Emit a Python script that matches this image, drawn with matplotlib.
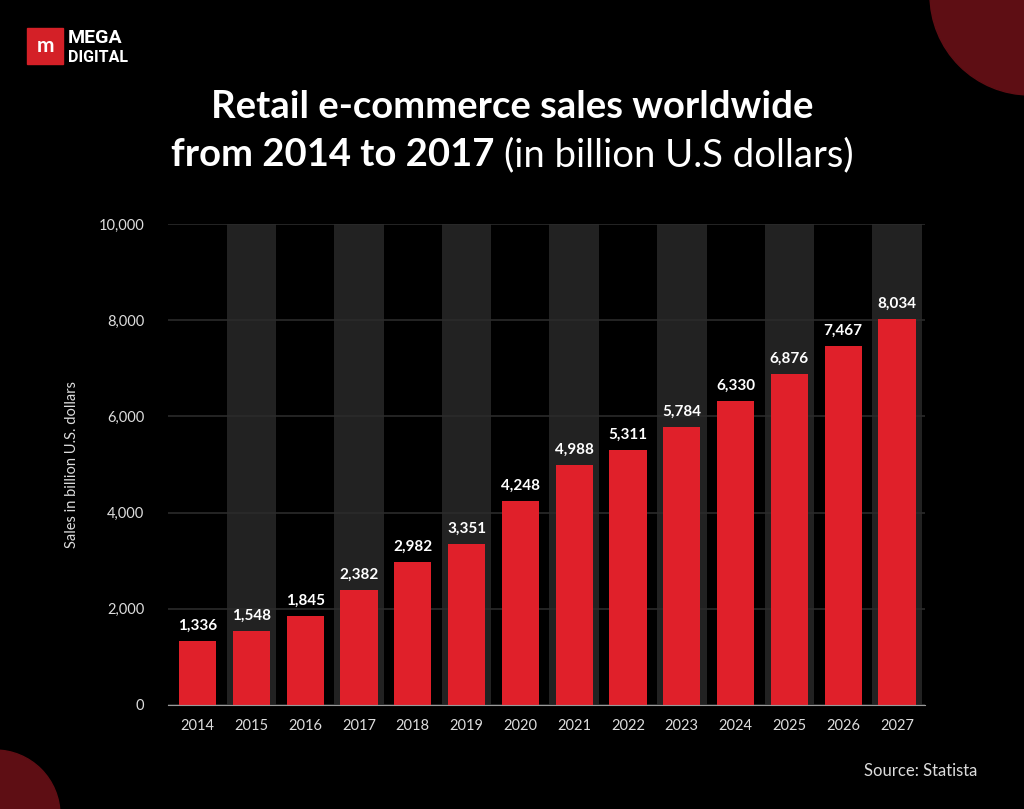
import matplotlib.pyplot as plt
from matplotlib.patches import Circle, Rectangle
import numpy as np

years = ['2014', '2015', '2016', '2017', '2018', '2019', '2020',
         '2021', '2022', '2023', '2024', '2025', '2026', '2027']
sales = [1336, 1548, 1845, 2382, 2982, 3351, 4248,
         4988, 5311, 5784, 6330, 6876, 7467, 8034]
yticks = [0, 2000, 4000, 6000, 8000, 10000]

plt.rcParams['font.family'] = ['Lato', 'DejaVu Sans']

fig = plt.figure(figsize=(10.24, 8.09), dpi=100, facecolor='black')
inch = fig.dpi_scale_trans

# decorative corner circles (coordinates in inches)
fig.patches.append(Circle((10.30, 8.14), 1.0, transform=inch, color='#5e0e14', zorder=0))
fig.patches.append(Circle((-0.05, -0.06), 0.65, transform=inch, color='#5e0e14', zorder=0))

# logo
fig.patches.append(Rectangle((0.27, 8.09 - 0.64), 0.36, 0.36, transform=inch, color='#d42027'))
fig.text(45 / 1024, 1 - 46 / 809, 'm', color='white', fontsize=15, fontweight='bold',
         ha='center', va='center')
fig.text(68 / 1024, 1 - 38 / 809, 'MEGA', color='white', fontsize=14, fontweight='bold',
         ha='left', va='center', family='Roboto')
fig.text(68 / 1024, 1 - 57 / 809, 'DIGITAL', color='white', fontsize=11.5, fontweight='bold',
         ha='left', va='center', family='Roboto')

# title
fig.text(0.5, 1 - 107 / 809, 'Retail e-commerce sales worldwide', color='white',
         fontsize=27.5, fontweight='bold', ha='center', va='center')
t1 = fig.text(0, 1 - 155 / 809, 'from 2014 to 2017 ', color='white',
              fontsize=27.5, fontweight='bold', ha='left', va='center')
t2 = fig.text(0, 1 - 155 / 809, '(in billion U.S dollars)', color='white',
              fontsize=27.5, ha='left', va='center')
fig.canvas.draw()
r = fig.canvas.get_renderer()
w1 = t1.get_window_extent(r).width / fig.bbox.width
w2 = t2.get_window_extent(r).width / fig.bbox.width
x0 = 0.5 - (w1 + w2) / 2
t1.set_x(x0)
t2.set_x(x0 + w1)

ax = fig.add_axes([168 / 1024, 1 - 705 / 809, 757 / 1024, 481 / 809])
ax.set_facecolor('black')
x = np.arange(len(years))

# alternating shaded columns
for i in x[1::2]:
    ax.bar(i, 10000, width=0.92, color='#222222', zorder=0)

ax.bar(x, sales, width=0.69, color='#e0202a', zorder=3)
for xi, v in zip(x, sales):
    ax.text(xi, v + 170, f'{v:,}', color='white', fontsize=11, fontweight='bold',
            ha='center', va='bottom', zorder=4)

ax.set_ylim(0, 10000)
ax.set_xlim(-0.55, 13.52)
ax.set_yticks(yticks)
ax.set_yticklabels([f'{t:,}' for t in yticks])
ax.set_xticks(x)
ax.set_xticklabels(years)
ax.tick_params(axis='both', length=0, colors='#dddddd', labelsize=10.5)
ax.tick_params(axis='y', pad=17)
ax.tick_params(axis='x', pad=10)
ax.yaxis.grid(True, color='#2b2b2b', linewidth=1.2, zorder=1)
ax.set_axisbelow(True)
for s in ['top', 'right', 'left']:
    ax.spines[s].set_visible(False)
ax.spines['bottom'].set_color('#9a9a9a')
ax.spines['bottom'].set_zorder(5)
ax.set_ylabel('Sales in billion U.S. dollars', color='#dddddd', fontsize=10.5, labelpad=14)

fig.text(977 / 1024, 1 - 771 / 809, 'Source: Statista', color='#dddddd', fontsize=12,
         ha='right', va='center')

plt.savefig('out.png', dpi=100, facecolor='black')
